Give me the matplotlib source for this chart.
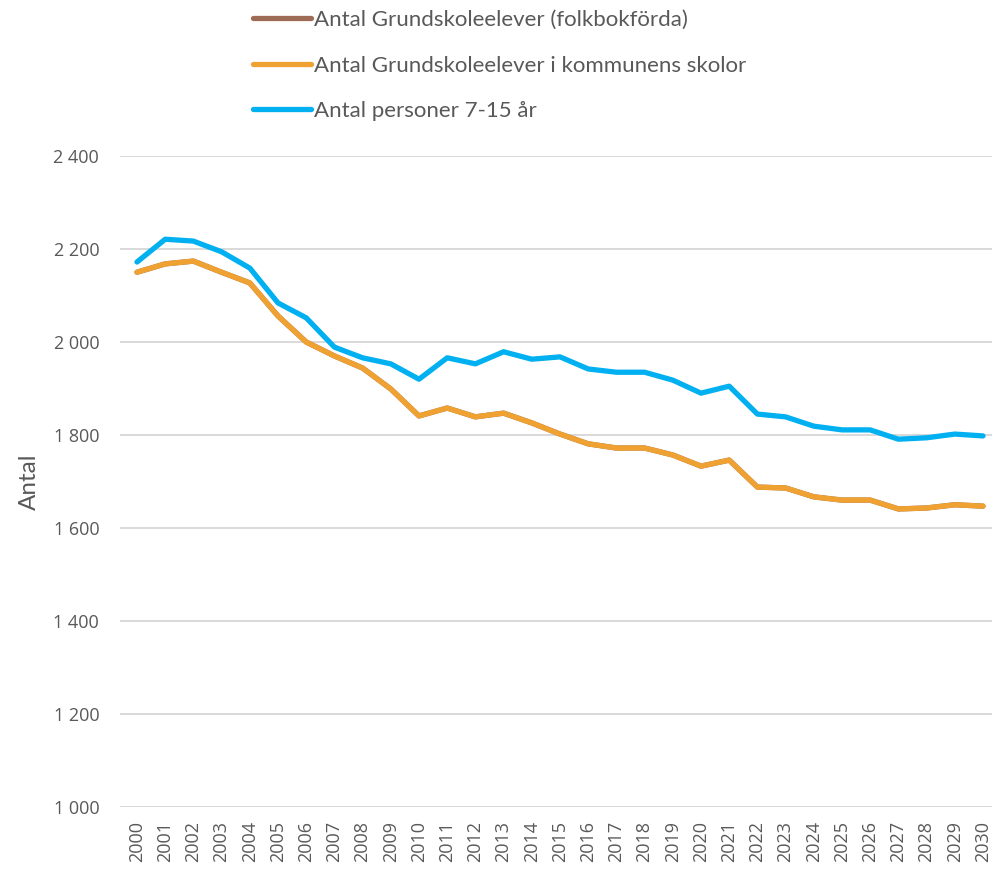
import matplotlib
matplotlib.use("Agg")
import matplotlib.pyplot as plt
from matplotlib.ticker import FuncFormatter

years = list(range(2000, 2031))
folkbokforda = [2150, 2168, 2174, 2150, 2127, 2056, 2000, 1970, 1944, 1899,
                1841, 1858, 1839, 1847, 1826, 1802, 1781, 1772, 1772, 1757,
                1733, 1746, 1688, 1686, 1667, 1660, 1660, 1641, 1643, 1650, 1647]
kommunens = [2150, 2168, 2174, 2150, 2127, 2056, 2000, 1970, 1944, 1899,
             1841, 1858, 1839, 1847, 1826, 1802, 1781, 1772, 1772, 1757,
             1733, 1746, 1688, 1686, 1667, 1660, 1660, 1641, 1643, 1650, 1647]
personer = [2172, 2221, 2217, 2194, 2159, 2084, 2052, 1989, 1966, 1953,
            1920, 1966, 1953, 1979, 1963, 1968, 1942, 1935, 1935, 1918,
            1890, 1905, 1845, 1839, 1819, 1811, 1811, 1791, 1794, 1802, 1798]
labels = ["Antal Grundskoleelever (folkbokförda)",
          "Antal Grundskoleelever i kommunens skolor",
          "Antal personer 7-15 år"]
colors = ["#9E6B55", "#EFA232", "#00B0F0"]

plt.rcParams['font.family'] = ['Lato', 'DejaVu Sans']
fig = plt.figure(figsize=(9.92, 8.71), dpi=100)
W, H = 992, 871
ax = fig.add_axes([120 / W, 1 - 807 / H, (992 - 120) / W, (807 - 156) / H])

lw = 3.8
for vals, lab, c in zip([folkbokforda, kommunens, personer], labels, colors):
    ax.plot(years, vals, color=c, lw=lw, label=lab, solid_capstyle='round',
            solid_joinstyle='round')

ax.set_ylim(1000, 2400)
ax.set_xlim(2000 - 17 / 28.2, 2030 + 9 / 28.2)
ax.set_yticks(range(1000, 2401, 200))
ax.yaxis.set_major_formatter(FuncFormatter(lambda v, p: f"{int(v):,}".replace(",", " ")))
ax.set_xticks(years)
ax.set_xticklabels([str(y) for y in years], rotation=90)
ax.grid(axis='y', color='#D9D9D9', lw=1.4)
ax.set_axisbelow(True)
for s in ax.spines.values():
    s.set_visible(False)
ax.tick_params(axis='both', length=0, labelsize=13, colors='#595959')
for t in ax.get_xticklabels() + ax.get_yticklabels():
    t.set_fontfamily(['Open Sans', 'DejaVu Sans'])
ax.tick_params(axis='y', pad=15)
ax.tick_params(axis='x', pad=10)
ax.set_ylabel("Antal", fontsize=17.5, color='#595959', labelpad=10)

fig.legend(loc='upper left', bbox_to_anchor=(233 / W, 1 + 10 / H), frameon=False,
           fontsize=16, labelcolor='#595959', handlelength=2.6, handletextpad=0.14,
           labelspacing=1.15)

fig.savefig("out.png", dpi=100)
